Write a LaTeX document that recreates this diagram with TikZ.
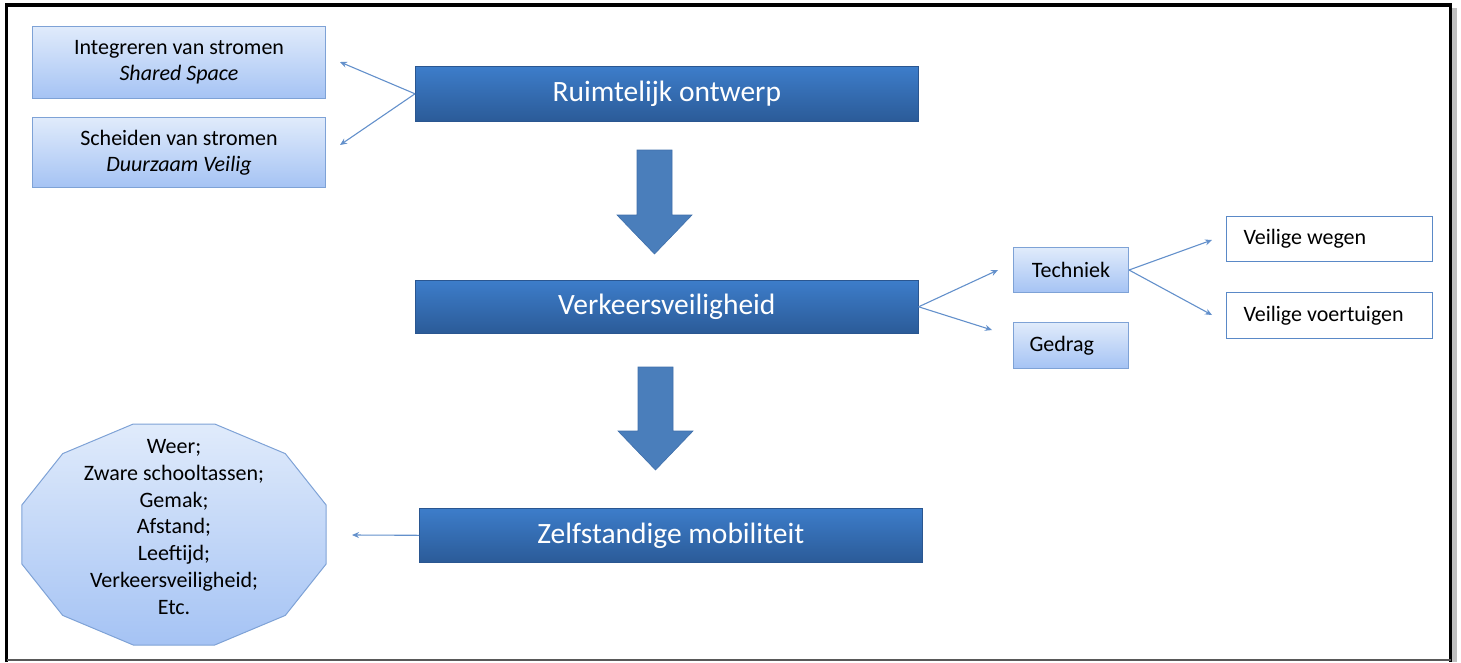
\documentclass[tikz,border=0pt]{standalone}
\usepackage{fontspec}
\setmainfont{Carlito}
\usetikzlibrary{arrows.meta,positioning}
\definecolor{mainTop}{HTML}{3D7DCA}
\definecolor{mainBot}{HTML}{2B5B98}
\definecolor{mainEdge}{HTML}{2A5690}
\definecolor{lightTop}{HTML}{E0EBFB}
\definecolor{lightBot}{HTML}{A5C3F4}
\definecolor{lightEdge}{HTML}{7EA2D6}
\definecolor{conn}{HTML}{6390CB}
\definecolor{bigArrow}{HTML}{4A7EBB}
\definecolor{bigArrowEdge}{HTML}{3F6FAA}
\definecolor{plainEdge}{HTML}{5A89C7}
\tikzset{
  mainbox/.style={draw=mainEdge, line width=0.6pt, top color=mainTop, bottom color=mainBot,
    text=white, font=\fontsize{29.5}{32}\selectfont, minimum width=503pt, minimum height=55pt,
    inner sep=0pt, anchor=north west},
  lightbox/.style={draw=lightEdge, line width=1pt, top color=lightTop, bottom color=lightBot,
    text=black, font=\fontsize{22}{26}\selectfont, align=center, inner sep=0pt, anchor=north west},
  plainbox/.style={draw=plainEdge, line width=1pt, fill=white, text=black,
    font=\fontsize{22}{24}\selectfont, inner sep=0pt, anchor=north west,
    minimum width=206pt, minimum height=45pt},
  connector/.style={draw=conn, line width=1.1pt, -{Stealth[length=7pt,width=6pt]}},
  blockarrow/.style={fill=bigArrow, draw=bigArrowEdge, line width=0.6pt},
}
\begin{document}
\begin{tikzpicture}[x=1pt,y=-1pt]
\useasboundingbox (0,0) rectangle (1461,662);
% frame
\fill[gray!50] (1452,8) rectangle (1457,662);
\draw[black, line width=3.5pt] (6.5,662) -- (6.5,5) -- (1450.5,5) -- (1450.5,662);
\draw[gray!70!black, line width=2pt] (6.5,660) -- (1450.5,660);

% left boxes
\node[lightbox, minimum width=293pt, minimum height=72pt] (integ) at (32,26)
  {Integreren van stromen\\\textit{Shared Space}};
\node[lightbox, minimum width=293pt, minimum height=70pt] (scheid) at (32,117)
  {Scheiden van stromen\\\textit{Duurzaam Veilig}};

% main boxes
\node[mainbox] (ruimte) at (415,66) {Ruimtelijk ontwerp};
\node[mainbox, minimum height=53pt] (verkeer) at (415,280) {Verkeersveiligheid};
\node[mainbox, minimum height=54pt] (zelf) at (419,508) {Zelfstandige mobiliteit};

% block arrows
\draw[blockarrow] (637,150) -- (672,150) -- (672,215) -- (692,215) -- (654.5,254)
  -- (617,215) -- (637,215) -- cycle;
\draw[blockarrow] (638,367) -- (673,367) -- (673,431) -- (693,431) -- (655.5,470)
  -- (618,431) -- (638,431) -- cycle;

% right boxes
\node[lightbox, minimum width=115pt, minimum height=45pt] (tech) at (1013,247) {Techniek};
\node[lightbox, minimum width=115pt, minimum height=46pt] (gedrag) at (1013,322)
  {\makebox[115pt][l]{\hspace*{16pt}Gedrag}};
\node[plainbox] (wegen) at (1226,216) {\makebox[206pt][l]{\hspace*{17pt}Veilige wegen}};
\node[plainbox, minimum height=46pt] (voer) at (1226,292) {\makebox[206pt][l]{\hspace*{17pt}Veilige voertuigen}};

% dodecagon
\draw[draw=lightEdge, line width=1pt, top color=lightTop, bottom color=lightBot, shift={(174,534.5)}]
  (15:157.4 and 114.4) -- (45:157.4 and 114.4) -- (75:157.4 and 114.4) -- (105:157.4 and 114.4)
  -- (135:157.4 and 114.4) -- (165:157.4 and 114.4) -- (195:157.4 and 114.4) -- (225:157.4 and 114.4)
  -- (255:157.4 and 114.4) -- (285:157.4 and 114.4) -- (315:157.4 and 114.4) -- (345:157.4 and 114.4)
  -- cycle;
\node[font=\fontsize{22}{26.7}\selectfont, align=center, text=black] (factors) at (174,527)
  {Weer;\\Zware schooltassen;\\Gemak;\\Afstand;\\Leeftijd;\\Verkeersveiligheid;\\Etc.};

% connector end points
\coordinate (eInteg) at (340,62);
\coordinate (eScheid) at (340,145);
\coordinate (eTech) at (998,270);
\coordinate (eGedrag) at (992,330);
\coordinate (eWegen) at (1212,240);
\coordinate (eVoer) at (1212,315);
\coordinate (eFactors) at (352,535);

\draw[connector] (ruimte.west) -- (eInteg);
\draw[connector] (ruimte.west) -- (eScheid);
\draw[connector] (verkeer.east) -- (eTech);
\draw[connector] (verkeer.east) -- (eGedrag);
\draw[connector] (tech.east) -- (eWegen);
\draw[connector] (tech.east) -- (eVoer);
\draw[connector] (zelf.west) -- (eFactors);
\end{tikzpicture}
\end{document}
